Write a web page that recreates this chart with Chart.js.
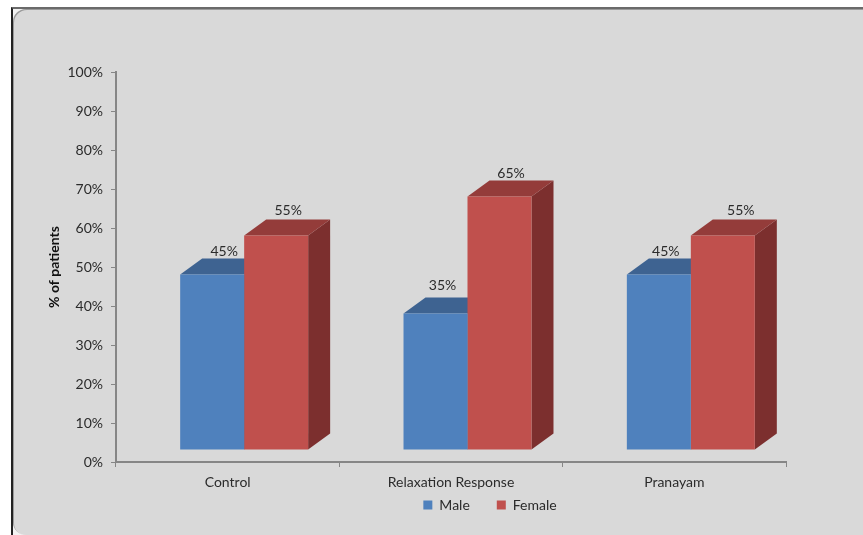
<!DOCTYPE html>
<html>
<head>
<meta charset="utf-8">
<title>% of patients</title>
<script src="https://cdn.jsdelivr.net/npm/chart.js@4"></script>
<style>
  html, body { margin: 0; padding: 0; background: #fff; overflow: hidden; }
  #wrap { position: relative; width: 863px; height: 535px; overflow: hidden; }
  /* frame lines and the rounded grey panel */
  #frame { position: absolute; left: 11px; top: 7px; width: 900px; height: 600px;
           border-left: 2px solid #222; border-top: 2px solid #6a6a6a; background: #f2f2f2; }
  #panel { position: absolute; left: 13px; top: 9px; width: 900px; height: 526px;
           background: #d9d9d9; border-radius: 13px;
           box-shadow: inset 1px 1px 0 #9a9a9a; }
  canvas { position: absolute; left: 0; top: 0; }
</style>
</head>
<body>
<div id="wrap">
  <div id="frame"></div>
  <div id="panel"></div>
  <canvas id="chart" width="863" height="535"></canvas>
</div>
<script>
(function(){
'use strict';

const categories = ['Control', 'Relaxation Response', 'Pranayam'];
const male   = [45, 35, 45];
const female = [55, 65, 55];

const FONT = 'Lato, sans-serif';
const TEXT = '#2b2b2b';
const AXIS = '#868686';

// fake 3D: front faces are pushed off the axis, side/top faces go back by DEPTH
const SHIFT = { x: 16.5, y: -12 };
const DEPTH = { x: 22, y: -16 };

function face(ctx, pts, color){
  ctx.fillStyle = color;
  ctx.beginPath();
  pts.forEach((p, i) => i ? ctx.lineTo(p[0], p[1]) : ctx.moveTo(p[0], p[1]));
  ctx.closePath();
  ctx.fill();
}

const bars3d = {
  id: 'bars3d',
  afterLayout(chart){
    // the legend is centred under the bars, not under the canvas
    const lg = chart.legend;
    lg.left += 97; lg.right += 97;
    lg.top += 6; lg.bottom += 6;
    lg.adjustHitBoxes();
    // x labels hang below the thin axis box, keep them from being clipped
    chart.scales.x.bottom += 40;
  },
  // side and top faces go under every front face, male first
  beforeDatasetsDraw(chart){
    const ctx = chart.ctx;
    ctx.save();
    ctx.translate(SHIFT.x, SHIFT.y);
    chart.data.datasets.forEach((ds, d) => {
      chart.getDatasetMeta(d).data.forEach(bar => {
        const { x, y, base, width } = bar.getProps(['x', 'y', 'base', 'width'], true);
        const l = x - width / 2, r = x + width / 2;
        face(ctx, [[r, y], [r + DEPTH.x, y + DEPTH.y], [r + DEPTH.x, base + DEPTH.y], [r, base]], ds.sideColor);
        face(ctx, [[l, y], [l + DEPTH.x, y + DEPTH.y], [r + DEPTH.x, y + DEPTH.y], [r, y]], ds.topColor);
      });
    });
    ctx.restore();
  },
  beforeDatasetDraw(chart){
    chart.ctx.save();
    chart.ctx.translate(SHIFT.x, SHIFT.y);
  },
  afterDatasetDraw(chart){
    chart.ctx.restore();
  },
  // value labels sit over the top face
  afterDatasetsDraw(chart){
    const ctx = chart.ctx;
    ctx.save();
    ctx.font = '14px ' + FONT;
    ctx.fillStyle = TEXT;
    ctx.textAlign = 'center';
    ctx.textBaseline = 'middle';
    chart.data.datasets.forEach((ds, d) => {
      chart.getDatasetMeta(d).data.forEach((bar, i) => {
        const nudge = ds.labelNudge[i];
        ctx.fillText(ds.data[i] + '%', bar.x + SHIFT.x + nudge[0], bar.y + SHIFT.y + nudge[1]);
      });
    });
    ctx.restore();
  }
};

new Chart(document.getElementById('chart'), {
  type: 'bar',
  plugins: [bars3d],
  data: {
    labels: categories,
    datasets: [
      { label: 'Male', data: male, backgroundColor: '#4f81bd', topColor: '#3e6391', sideColor: '#37577f',
        labelNudge: [[12, -23], [7, -28], [7, -23]], clip: false },
      { label: 'Female', data: female, backgroundColor: '#c0504d', topColor: '#943c3a', sideColor: '#7c2f2e',
        labelNudge: [[12, -25], [11.5, -23], [18, -25]], clip: false }
    ]
  },
  options: {
    responsive: false,
    animation: false,
    events: [],
    layout: { padding: { top: 72, right: 77, left: 0, bottom: 19 } },
    datasets: { bar: { categoryPercentage: 0.573, barPercentage: 1, borderWidth: 0 } },
    scales: {
      x: {
        afterFit(s){ s.height = 3; },
        grid: { drawOnChartArea: false, color: AXIS, tickLength: 5 },
        border: { color: AXIS, width: 2 },
        ticks: { color: TEXT, font: { family: FONT, size: 14 }, padding: 7, maxRotation: 0 }
      },
      y: {
        min: 0, max: 100,
        afterFit(s){ s.width = 116; },
        grid: { drawOnChartArea: false, color: AXIS, tickLength: 5 },
        border: { color: AXIS, width: 2 },
        ticks: { stepSize: 10, color: TEXT, font: { family: FONT, size: 14 }, padding: 8, callback: v => v + '%' },
        title: { display: true, text: '% of patients', color: '#111',
                 font: { family: FONT, size: 14, weight: 'bold' }, padding: { top: 46, bottom: 0 } }
      }
    },
    plugins: {
      tooltip: { enabled: false },
      legend: {
        position: 'bottom',
        labels: { color: TEXT, font: { family: FONT, size: 14 }, boxWidth: 9, boxHeight: 9, padding: 27 }
      }
    }
  }
});

})();
</script>
</body>
</html>
